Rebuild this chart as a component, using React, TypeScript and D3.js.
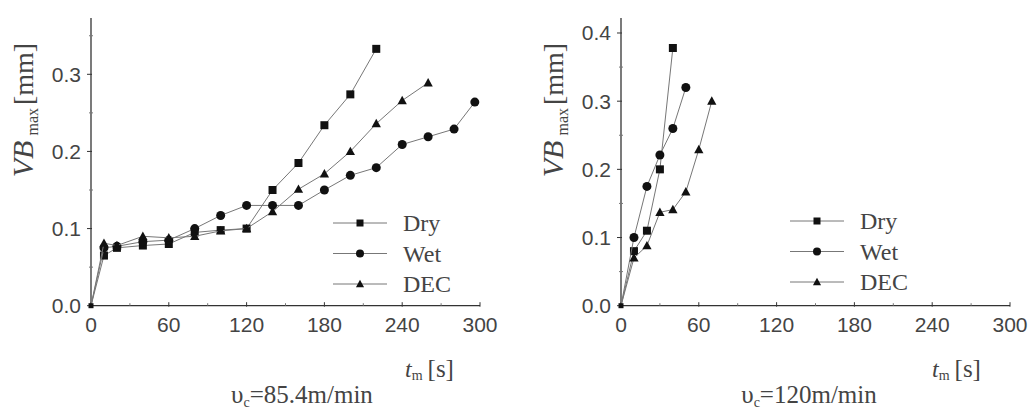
import React from "react";
import * as d3 from "d3";

// ---- data ----
const leftDryT = [0, 10, 20, 40, 60, 80, 100, 120, 140, 160, 180, 200, 220];
const leftDryV = [0, 0.065, 0.075, 0.078, 0.08, 0.095, 0.098, 0.1, 0.15, 0.185, 0.234, 0.274, 0.333];
const leftWetT = [0, 10, 20, 40, 60, 80, 100, 120, 140, 160, 180, 200, 220, 240, 260, 280, 296];
const leftWetV = [0, 0.075, 0.077, 0.083, 0.085, 0.1, 0.117, 0.13, 0.13, 0.13, 0.15, 0.169, 0.179, 0.209, 0.219, 0.229, 0.264];
const leftDecT = [0, 10, 20, 40, 60, 80, 100, 120, 140, 160, 180, 200, 220, 240, 260];
const leftDecV = [0, 0.081, 0.078, 0.09, 0.088, 0.09, 0.097, 0.1, 0.122, 0.151, 0.171, 0.2, 0.236, 0.266, 0.289];

const rightDryT = [0, 10, 20, 30, 40];
const rightDryV = [0, 0.08, 0.11, 0.2, 0.378];
const rightWetT = [0, 10, 20, 30, 40, 50];
const rightWetV = [0, 0.1, 0.175, 0.221, 0.26, 0.32];
const rightDecT = [0, 10, 20, 30, 40, 50, 60, 70];
const rightDecV = [0, 0.07, 0.088, 0.137, 0.141, 0.167, 0.229, 0.3];

const xTicks = [0, 60, 120, 180, 240, 300];
const xMinor = [30, 90, 150, 210, 270];
const leftYTicks = [0, 0.1, 0.2, 0.3];
const leftYMinor = [0.05, 0.15, 0.25, 0.35];
const rightYTicks = [0, 0.1, 0.2, 0.3, 0.4];
const rightYMinor = [0.05, 0.15, 0.25, 0.35];
const seriesNames = ["Dry", "Wet", "DEC"];
const captions = ["85.4m/min", "120m/min"];

type Series = { name: string; t: number[]; v: number[] };

const SANS = "'Liberation Sans', Arial, sans-serif";
const SERIF = "'Liberation Serif', 'Times New Roman', serif";

function Marker({ kind, x, y, s }: { kind: string; x: number; y: number; s: number }) {
  if (kind === "Dry") return <rect x={x - s / 2} y={y - s / 2} width={s} height={s} fill="#111" />;
  if (kind === "Wet") return <circle cx={x} cy={y} r={s / 2 + 0.5} fill="#111" />;
  const h = s * 1.0;
  return (
    <path
      d={`M${x},${y - h * 0.6} L${x + s * 0.58},${y + h * 0.45} L${x - s * 0.58},${y + h * 0.45} Z`}
      fill="#111"
    />
  );
}

function Panel(props: {
  x0: number; x1: number; yMax: number; yTicks: number[]; yMinor: number[];
  series: Series[]; legX: number; legY: number; caption: string; capX: number; titleX: number;
}) {
  const { x0, x1, yMax, yTicks, yMinor, series, legX, legY, caption, capX, titleX } = props;
  const xs = d3.scaleLinear().domain([0, 300]).range([x0, x1]);
  const ys = d3.scaleLinear().domain([0, yMax]).range([305.7, 18]);
  const line = d3.line<[number, number]>().x((d) => xs(d[0])).y((d) => ys(d[1]));
  const axisColor = "#333";
  return (
    <g>
      {/* axes */}
      <line x1={x0} x2={x0} y1={ys(yMax)} y2={ys(0)} stroke={axisColor} strokeWidth={1.3} />
      <line x1={x0} x2={x1} y1={ys(0)} y2={ys(0)} stroke={axisColor} strokeWidth={1.3} />
      {xTicks.map((t) => (
        <g key={"xt" + t}>
          <line x1={xs(t)} x2={xs(t)} y1={ys(0) - 3.5} y2={ys(0) + 1} stroke={axisColor} strokeWidth={1} />
          <text x={xs(t)} y={332} textAnchor="middle" fontFamily={SANS} fontSize={21} fill="#444">{t}</text>
        </g>
      ))}
      {xMinor.map((t) => (
        <line key={"xm" + t} x1={xs(t)} x2={xs(t)} y1={ys(0) - 2.5} y2={ys(0)} stroke="#777" strokeWidth={1} />
      ))}
      {yTicks.map((v) => (
        <g key={"yt" + v}>
          <line x1={x0 - 4} x2={x0 + 1} y1={ys(v)} y2={ys(v)} stroke={axisColor} strokeWidth={1} />
          <text x={x0 - 10} y={ys(v) + 7.5} textAnchor="end" fontFamily={SANS} fontSize={21} fill="#444">{v.toFixed(1)}</text>
        </g>
      ))}
      {yMinor.filter((v) => v < yMax).map((v) => (
        <line key={"ym" + v} x1={x0 - 2} x2={x0 + 2} y1={ys(v)} y2={ys(v)} stroke="#777" strokeWidth={1} />
      ))}
      {/* series */}
      {series.map((s) => (
        <g key={s.name}>
          <path d={line(s.t.map((t, i) => [t, s.v[i]] as [number, number])) || ""} fill="none" stroke="#777" strokeWidth={1} />
          {s.t.map((t, i) =>
            i === 0 ? null : <Marker key={i} kind={s.name} x={xs(t)} y={ys(s.v[i])} s={8} />
          )}
        </g>
      ))}
      {/* origin dot */}
      <rect x={xs(0) - 2.5} y={ys(0) - 2.5} width={5} height={5} fill="#111" />
      {/* legend */}
      {seriesNames.map((n, i) => (
        <g key={"lg" + n}>
          <line x1={legX} x2={legX + 54} y1={legY + i * 30.5} y2={legY + i * 30.5} stroke="#777" strokeWidth={1} />
          <Marker kind={n} x={legX + 27} y={legY + i * 30.5} s={7} />
          <text x={legX + 70} y={legY + i * 30.5 + 8} fontFamily={SERIF} fontSize={24} fill="#444">{n}</text>
        </g>
      ))}
      {/* y title */}
      <text transform={`translate(${x0 - 58},${110}) rotate(-90)`} textAnchor="middle" fontFamily={SERIF} fill="#444">
        <tspan fontSize={30} fontStyle="italic">VB</tspan>
        <tspan fontSize={16} dy={5} dx={5}>max</tspan>
        <tspan fontSize={28} dy={-5} dx={3}>[mm]</tspan>
      </text>
      {/* x title */}
      <text x={titleX} y={377} fontFamily={SERIF} fill="#444">
        <tspan fontSize={24} fontStyle="italic">t</tspan>
        <tspan fontSize={14} dy={3}>m</tspan>
        <tspan fontSize={25} dy={-3} dx={5}>[s]</tspan>
      </text>
      {/* caption */}
      <text x={capX} y={403} textAnchor="middle" fontFamily={SERIF} fill="#444">
        <tspan fontSize={25}>υ</tspan>
        <tspan fontSize={14} dy={4}>c</tspan>
        <tspan fontSize={25} dy={-4}>={caption}</tspan>
      </text>
    </g>
  );
}

export default function App() {
  const leftSeries: Series[] = [
    { name: "Dry", t: leftDryT, v: leftDryV },
    { name: "Wet", t: leftWetT, v: leftWetV },
    { name: "DEC", t: leftDecT, v: leftDecV },
  ];
  const rightSeries: Series[] = [
    { name: "Dry", t: rightDryT, v: rightDryV },
    { name: "Wet", t: rightWetT, v: rightWetV },
    { name: "DEC", t: rightDecT, v: rightDecV },
  ];
  return (
    <svg width={1034} height={411} style={{ position: "absolute", left: 0, top: 0, background: "#fff" }}>
      <rect width={1034} height={411} fill="#fff" />
      <Panel x0={91} x1={480} yMax={0.373} yTicks={leftYTicks} yMinor={leftYMinor} series={leftSeries}
        legX={333} legY={223} caption={captions[0]} capX={302} titleX={405} />
      <Panel x0={621} x1={1010} yMax={0.422} yTicks={rightYTicks} yMinor={rightYMinor} series={rightSeries}
        legX={790} legY={221} caption={captions[1]} capX={809} titleX={932} />
    </svg>
  );
}
